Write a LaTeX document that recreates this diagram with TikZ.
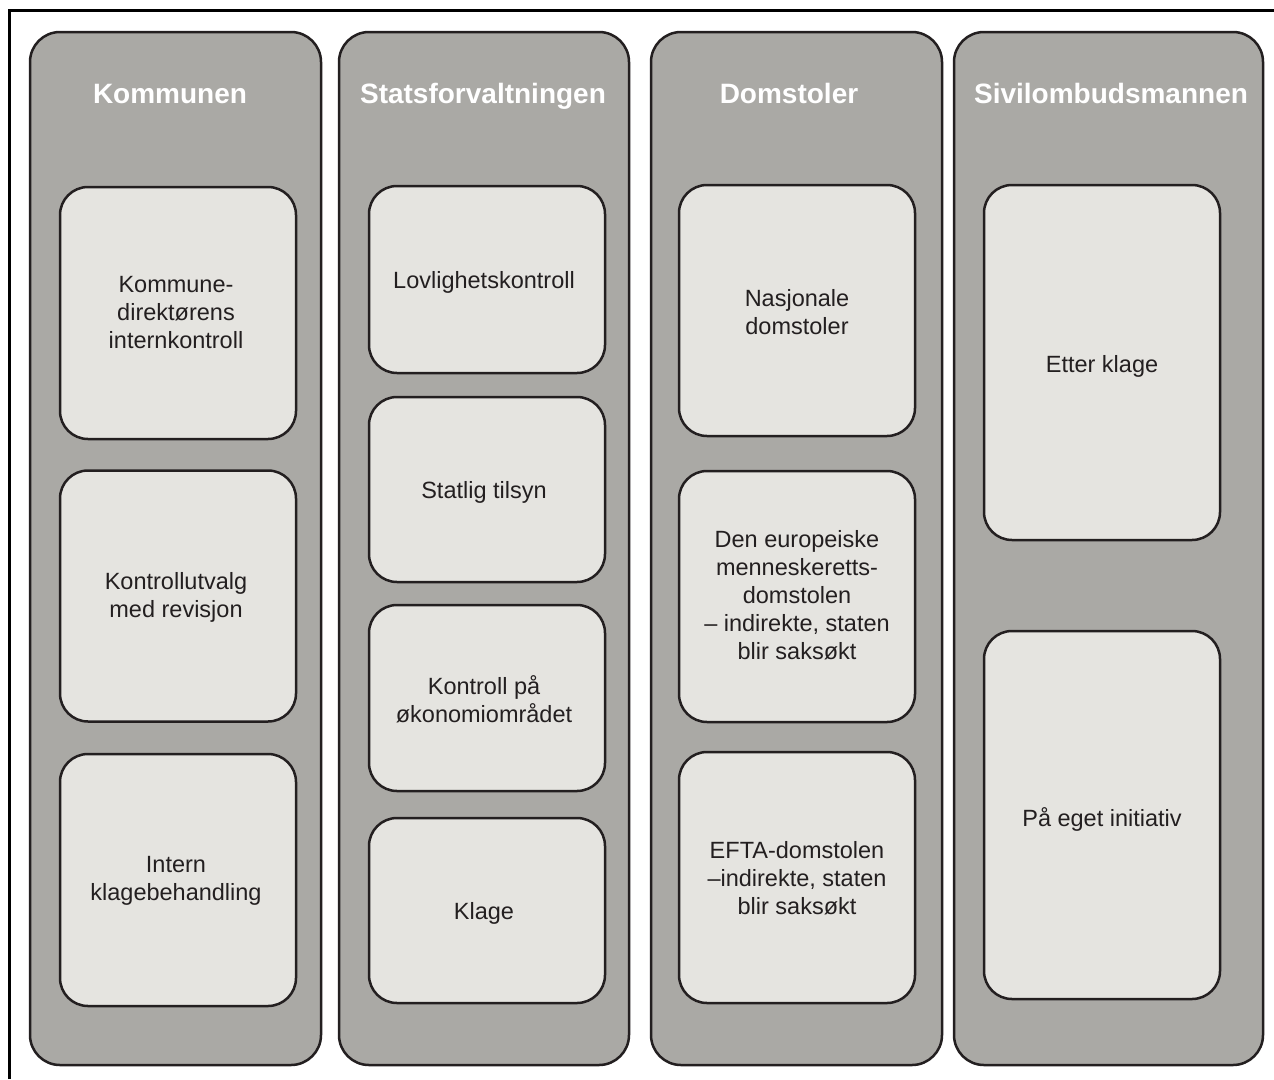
\documentclass[tikz,border=0pt]{standalone}
\usepackage{fontspec}
\setmainfont{Liberation Sans}
\definecolor{lc}{HTML}{231F20}
\definecolor{colfill}{HTML}{AAA9A5}
\definecolor{boxfill}{HTML}{E5E4E0}
\tikzset{
  colbox/.style={draw=lc, line width=2.5pt, fill=colfill, rounded corners=30pt, inner sep=0pt},
  inbox/.style={draw=lc, line width=2.5pt, fill=boxfill, rounded corners=28pt, minimum width=236pt,
    inner sep=0pt},
  boxtext/.style={align=center, text=lc, inner sep=0pt, font=\fontsize{23.5}{28}\selectfont},
  head/.style={text=white, anchor=base, inner sep=0pt, font=\fontsize{28}{32}\selectfont\bfseries},
  frameline/.style={draw=black, line width=3pt}
}
\begin{document}
\begin{tikzpicture}[x=1pt,y=-1pt]
\useasboundingbox (0,0) rectangle (1274,1079);
\fill[white] (0,0) rectangle (1274,1079);
\draw[frameline] (9,1079) -- (9,10) -- (1274,10);

% columns
\node[colbox, minimum width=291pt, minimum height=1033pt] (c1) at (175.5,548.5) {};
\node[colbox, minimum width=290pt, minimum height=1033pt] (c2) at (484,548.5) {};
\node[colbox, minimum width=291pt, minimum height=1033pt] (c3) at (796.5,548.5) {};
\node[colbox, minimum width=309pt, minimum height=1033pt] (c4) at (1108.5,548.5) {};

% headers
\node[head] (h1) at (170,103) {Kommunen};
\node[head] (h2) at (483,103) {Statsforvaltningen};
\node[head] (h3) at (789,103) {Domstoler};
\node[head] (h4) at (1111,103) {Sivilombudsmannen};

% column 1
\node[inbox, minimum height=252pt, label={[boxtext, xshift=-2pt]center:Kommune-\\direktørens\\internkontroll}] (k1) at (178,313) {};
\node[inbox, minimum height=251pt, label={[boxtext, xshift=-2pt, yshift=-1pt]center:Kontrollutvalg\\med revisjon}] (k2) at (178,596) {};
\node[inbox, minimum height=252pt, label={[boxtext, xshift=-2pt, yshift=-1pt]center:Intern\\klagebehandling}] (k3) at (178,880) {};

% column 2
\node[inbox, minimum height=187pt, label={[boxtext, xshift=-3pt, yshift=-3pt]center:Lovlighetskontroll}] (s1) at (487,279.5) {};
\node[inbox, minimum height=185pt, label={[boxtext, xshift=-3pt, yshift=-3pt]center:Statlig tilsyn}] (s2) at (487,489.5) {};
\node[inbox, minimum height=186pt, label={[boxtext, xshift=-3pt, yshift=-1pt]center:Kontroll på\\økonomiområdet}] (s3) at (487,698) {};
\node[inbox, minimum height=185pt, label={[boxtext, xshift=-3pt, yshift=-3pt]center:Klage}] (s4) at (487,910.5) {};

% column 3
\node[inbox, minimum height=251pt, label={[boxtext, yshift=-2pt]center:Nasjonale\\domstoler}] (d1) at (797,310.5) {};
\node[inbox, minimum height=251pt, label={[boxtext, yshift=1pt]center:Den europeiske\\menneskeretts-\\domstolen\\– indirekte, staten\\blir saksøkt}] (d2) at (797,596.5) {};
\node[inbox, minimum height=251pt, label={[boxtext, yshift=-1pt]center:EFTA-domstolen\\–indirekte, staten\\blir saksøkt}] (d3) at (797,877.5) {};

% column 4
\node[inbox, minimum height=355pt, label={[boxtext, yshift=-4pt]center:Etter klage}] (o1) at (1102,362.5) {};
\node[inbox, minimum height=368pt, label={[boxtext, yshift=-4pt]center:På eget initiativ}] (o2) at (1102,815) {};
\end{tikzpicture}
\end{document}
